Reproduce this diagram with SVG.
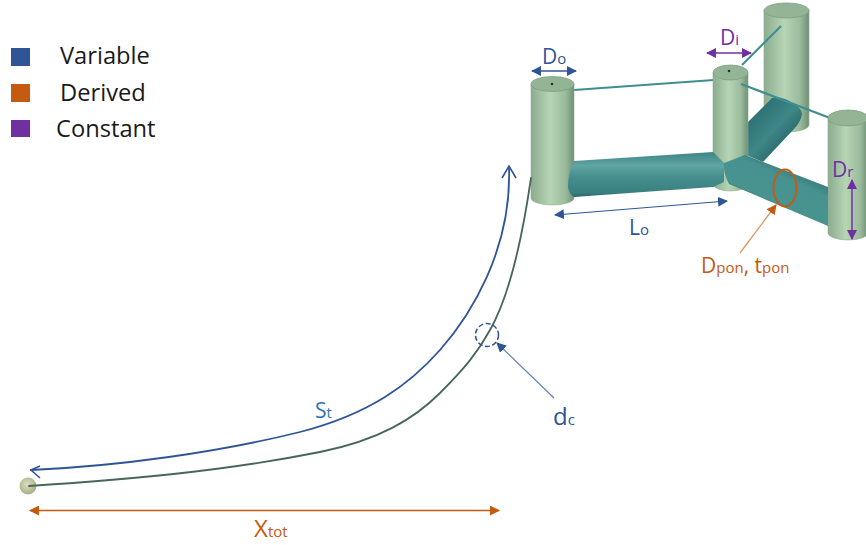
<svg xmlns="http://www.w3.org/2000/svg" width="866" height="545" viewBox="0 0 866 545">
<style>
text{font-family:"Open Sans","Noto Sans","Liberation Sans",sans-serif}
.leg{font-size:23.7px;fill:#1a1a1a}
.lab{font-size:21px}
.big{font-size:24px}
.sub{font-size:15px}
.blue{fill:#2f5597}.or{fill:#c55a11}.pu{fill:#7030a0}
.cyl{fill:url(#cg);stroke:#8fae90;stroke-width:.6}
.top{fill:#93b596;stroke:#7e9f82;stroke-width:.8}
.tend{stroke:#3f8f90;stroke-width:2.200;fill:none}
.pon{fill:url(#pg);stroke:none}
.pon2{fill:url(#pr)}
.pon3{fill:url(#pb)}
.cur{fill:none;stroke-linecap:round}
</style>
<defs>
<linearGradient id="cg" x1="0" x2="1" y1="0" y2="0">
<stop offset="0" stop-color="#8bac8e"/><stop offset=".45" stop-color="#b6d5b5"/><stop offset=".8" stop-color="#9abb9c"/><stop offset="1" stop-color="#6f8f74"/>
</linearGradient>
<linearGradient id="pg" x1="0" x2="0" y1="0" y2="1">
<stop offset="0" stop-color="#3f8485"/><stop offset=".3" stop-color="#5fa5a3"/><stop offset=".55" stop-color="#468f8e"/><stop offset=".9" stop-color="#3b7f80"/><stop offset="1" stop-color="#2c6566"/>
</linearGradient>
<linearGradient id="pr" gradientUnits="userSpaceOnUse" x1="790" y1="172" x2="774" y2="208">
<stop offset="0" stop-color="#3d8384"/><stop offset=".2" stop-color="#479291"/><stop offset=".85" stop-color="#48938f"/><stop offset="1" stop-color="#2f6d6e"/>
</linearGradient>
<linearGradient id="pb" gradientUnits="userSpaceOnUse" x1="760" y1="112" x2="790" y2="140">
<stop offset="0" stop-color="#2f7476"/><stop offset=".55" stop-color="#3e8687"/><stop offset="1" stop-color="#2c6a6c"/>
</linearGradient>
<radialGradient id="ball" cx=".45" cy=".4" r=".6"><stop offset="0" stop-color="#dcdfc0"/><stop offset="1" stop-color="#a9ad85"/></radialGradient>
<marker id="ab" viewBox="0 0 10 10" refX="9" refY="5" markerWidth="10" markerHeight="10" markerUnits="userSpaceOnUse" orient="auto-start-reverse"><path d="M0 0L10 5L0 10Z" fill="#2f5597"/></marker>
<marker id="ao" viewBox="0 0 10 10" refX="9" refY="5" markerWidth="10" markerHeight="10" markerUnits="userSpaceOnUse" orient="auto-start-reverse"><path d="M0 0L10 5L0 10Z" fill="#c55a11"/></marker>
<marker id="ap" viewBox="0 0 10 10" refX="9" refY="5" markerWidth="10" markerHeight="10" markerUnits="userSpaceOnUse" orient="auto-start-reverse"><path d="M0 0L10 5L0 10Z" fill="#7030a0"/></marker>
</defs>

<g id="legend">
<rect x="11" y="48" width="19" height="18" class="blue"/>
<rect x="11" y="84" width="19" height="18" class="or"/>
<rect x="11" y="120" width="19" height="17" class="pu"/>
<text class="leg" x="60" y="64">Variable</text>
<text class="leg" x="60" y="101">Derived</text>
<text class="leg" x="56" y="137">Constant</text>
</g>

<g id="platform">
<g id="column-back"><path class="cyl" d="M764 10V125A22.500 7 0 0 0 809 125V10Z"/><ellipse class="top" cx="786.500" cy="10.500" rx="22.500" ry="7.500"/></g>
<path class="tend" d="M742 65L781 26"/>
<g id="pontoon-back"><path class="pon3" d="M746 124L772 98Q782 96 791 102Q802 108 802 114Q801 122 793 130L763 162L746 155Z"/></g>
<path class="tend" d="M574 90L714 80"/>
<g id="column-outer"><path class="cyl" d="M531 84V198A21.500 7 0 0 0 574 198V84Z"/><ellipse class="top" cx="552.500" cy="84" rx="21.500" ry="7.500"/><circle cx="552" cy="84" r="1.300" fill="#1d3a25"/></g>
<g id="column-center"><path class="cyl" d="M713 73V184A17.500 7 0 0 0 748 184V73Z"/><ellipse class="top" cx="730.500" cy="72.500" rx="17.500" ry="7.500"/><circle cx="729" cy="71" r="1.300" fill="#1d3a25"/></g>
<path class="tend" d="M741 84L830 118"/>
<g id="column-right"><path class="cyl" d="M828 118V233A20 7 0 0 0 868 233V118Z"/><ellipse class="top" cx="848" cy="118" rx="20" ry="8"/></g>
<g id="pontoon-left"><path class="pon" d="M574 161L713 152L724 163V182L713 187L574 197Q569 194 568 187Q568 172 574 161Z"/></g>
<g id="pontoon-right"><path class="pon2" d="M724 163L745 155L828 187V226L729 184Q723 173 724 163Z"/></g>
</g>

<g id="mooring">
<circle cx="28" cy="486" r="8.500" fill="url(#ball)"/>
<path class="cur" stroke="#47665a" stroke-width="1.800" d="M29 486C120 480 220 472 320 452C380 440 415 418 440 393C465 368 478 352 490 330C510 295 522 240 531 178"/>
</g>

<g id="connectors">
<path class="cur" stroke="#2f5597" stroke-width="1.800" d="M31 470C120 466 220 452 300 432C370 414 410 384 440 350C470 316 512 250 509 167"/>
<path d="M40 466L31 470L40 478M502 178L509 166L516 178" fill="none" stroke="#2f5597" stroke-width="1.600"/>
<circle cx="487" cy="335" r="11.500" fill="none" stroke="#2f5597" stroke-width="1.500" stroke-dasharray="5 2.500"/>
<path d="M554 398L497 343" stroke="#6c84b4" stroke-width="1.300" marker-end="url(#ab)"/>
<path d="M532 71H576" stroke="#2f5597" stroke-width="1.500" marker-start="url(#ab)" marker-end="url(#ab)"/>
<path d="M707 53H751" stroke="#7030a0" stroke-width="1.500" marker-start="url(#ap)" marker-end="url(#ap)"/>
<path d="M555 215L727 201" stroke="#2f5597" stroke-width="1.200" marker-start="url(#ab)" marker-end="url(#ab)"/>
<path d="M852 180V239" stroke="#7030a0" stroke-width="1.500" marker-start="url(#ap)" marker-end="url(#ap)"/>
<ellipse cx="785" cy="188" rx="11.500" ry="18.500" fill="none" stroke="#c55a11" stroke-width="1.800"/>
<path d="M740 253L776 205" stroke="#dd9665" stroke-width="1.300" marker-end="url(#ao)"/>
<path d="M30 510.500H499" stroke="#c55a11" stroke-width="1.300" marker-start="url(#ao)" marker-end="url(#ao)"/>
</g>

<g id="labels">
<text class="lab blue" x="542" y="64">D<tspan class="sub">o</tspan></text>
<text class="lab pu" x="720" y="45">D<tspan class="sub">i</tspan></text>
<text class="lab pu" x="832" y="177">D<tspan class="sub">r</tspan></text>
<text class="lab blue" x="629" y="235">L<tspan class="sub">o</tspan></text>
<text class="lab or" x="701" y="273">D<tspan class="sub">pon</tspan>, t<tspan class="sub">pon</tspan></text>
<text class="lab" x="315" y="418" fill="#2e75b6">S<tspan class="sub">t</tspan></text>
<text class="big blue" x="553" y="425">d<tspan class="sub">c</tspan></text>
<text class="big or" x="254" y="537">X<tspan class="sub">tot</tspan></text>
</g>
</svg>
